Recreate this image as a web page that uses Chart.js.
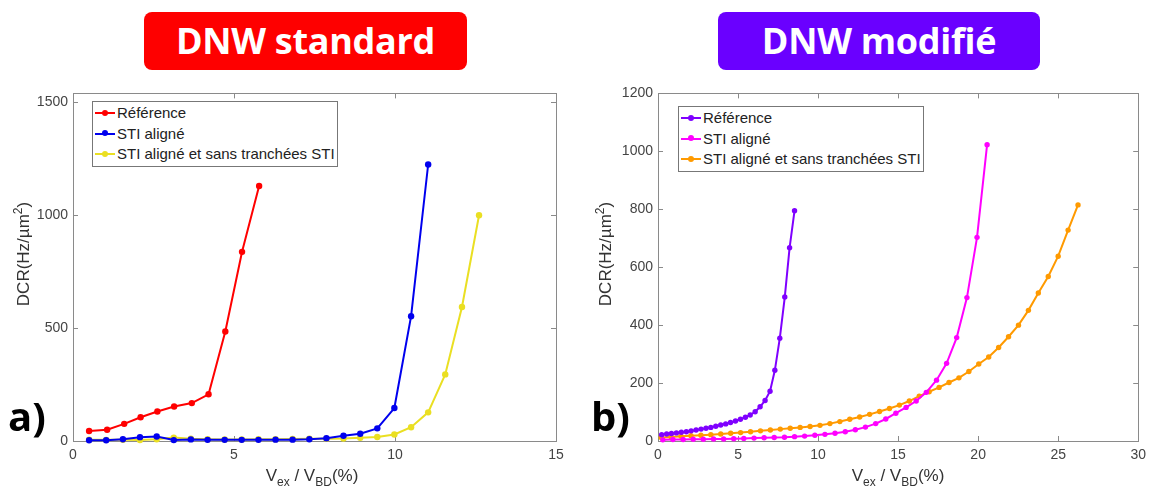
<!DOCTYPE html>
<html>
<head>
<meta charset="utf-8">
<script src="https://cdn.jsdelivr.net/npm/chart.js@4.4.0/dist/chart.umd.min.js"></script>
<style>
  html,body{margin:0;padding:0;background:#fff;}
  body{width:1152px;height:496px;position:relative;overflow:hidden;font-family:"Liberation Sans",Arial,sans-serif;}
  .hdr{position:absolute;top:12px;height:58px;border-radius:8px;color:#fff;font-family:"Open Sans","Noto Sans",sans-serif;font-weight:700;font-size:36px;line-height:58px;text-align:center;letter-spacing:-0.3px;}
  .cv{position:absolute;top:80px;height:416px;}
  .ytitle{position:absolute;transform:translate(-50%,-50%) rotate(-90deg);white-space:nowrap;font-size:17px;color:#333;}
  .xtitle{position:absolute;transform:translateX(-50%);white-space:nowrap;font-size:17px;color:#333;top:466px;}
  .xtitle sub{font-size:12px;vertical-align:-5px;}
  .ytitle sup{font-size:12px;vertical-align:7px;}
  .tag{position:absolute;font-family:"Open Sans","Noto Sans",sans-serif;font-weight:700;font-size:40px;color:#000;top:388px;}
  .legend{position:absolute;background:#fff;border:1px solid #777;font-size:15px;color:#222;padding:1px 2px 1px 2px;}
  .legend .row{height:20.5px;line-height:20.5px;white-space:nowrap;display:flex;align-items:center;}
  .legend .smp{position:relative;width:20px;height:2px;margin-right:2px;}
  .legend .smp i{position:absolute;left:7px;top:-2.5px;width:6px;height:6px;border-radius:50%;}
</style>
</head>
<body>
<div class="hdr" style="left:144px;width:323px;background:#fe0000;">DNW standard</div>
<div class="hdr" style="left:718px;width:322px;background:#6a00ff;">DNW modifié</div>

<canvas id="cA" class="cv" style="left:0;width:580px;" width="580" height="416"></canvas>
<canvas id="cB" class="cv" style="left:580px;width:572px;" width="572" height="416"></canvas>

<div class="ytitle" style="left:22px;top:254px;">DCR(Hz/µm<sup>2</sup>)</div>
<div class="ytitle" style="left:604px;top:254px;">DCR(Hz/µm<sup>2</sup>)</div>
<div class="xtitle" style="left:312px;">V<sub>ex</sub> / V<sub>BD</sub>(%)</div>
<div class="xtitle" style="left:898px;">V<sub>ex</sub> / V<sub>BD</sub>(%)</div>
<div class="tag" style="left:8px;">a)</div>
<div class="tag" style="left:591px;">b)</div>

<div id="legA" class="legend" style="left:92px;top:101px;"></div>
<div id="legB" class="legend" style="left:678px;top:106px;"></div>

<script>
// ---------- Panel a) DNW standard ----------
const seriesNamesA = ["Référence", "STI aligné", "STI aligné et sans tranchées STI"];
const colorsA = ["#ff0000", "#0000ee", "#eadf22"];

const refAX = [0.50,1.06,1.59,2.10,2.62,3.14,3.69,4.21,4.73,5.25,5.78];
const refAY = [44,50,76,105,131,153,168,207,485,838,1130];

const stiAX = [0.50,1.03,1.55,2.08,2.60,3.13,3.66,4.18,4.71,5.24,5.76,6.29,6.82,7.34,7.87,8.40,8.92,9.45,9.98,10.50,11.03];
const stiAY = [3,3,8,17,20,4,7,5,5,5,5,6,6,8,12,23,32,56,146,553,1225];

const sansAX = [0.50,1.03,1.55,2.08,2.60,3.13,3.66,4.18,4.71,5.24,5.76,6.29,6.82,7.34,7.87,8.40,8.92,9.45,9.98,10.50,11.03,11.56,12.08,12.61];
const sansAY = [6,5,5,4,8,15,10,8,7,7,8,8,9,10,10,11,14,18,29,61,127,295,594,1000];

const xTicksA = [0,5,10,15];
const yTicksA = [0,500,1000,1500];

// ---------- Panel b) DNW modifié ----------
const seriesNamesB = ["Référence", "STI aligné", "STI aligné et sans tranchées STI"];
const colorsB = ["#7f00ff", "#ff00ff", "#ff9a00"];

const refBX = [0.23,0.54,0.84,1.15,1.46,1.77,2.07,2.38,2.69,3.00,3.30,3.61,3.92,4.23,4.53,4.84,5.15,5.46,5.76,6.07,6.38,6.69,7.00,7.30,7.61,7.92,8.22,8.53];
const refBY = [22,24,26,28,30,32,35,38,41,44,47,51,55,59,64,69,75,82,90,101,118,140,172,244,355,497,667,795];

const stiBX = [0.30,0.93,1.57,2.20,2.83,3.47,4.10,4.73,5.36,6.00,6.63,7.26,7.90,8.53,9.16,9.80,10.43,11.06,11.70,12.33,12.96,13.60,14.23,14.86,15.50,16.13,16.76,17.40,18.03,18.66,19.30,19.93,20.56];
const stiBY = [4,5,5,6,6,7,7,8,9,10,11,12,13,15,17,20,23,27,32,39,48,60,76,96,116,138,168,210,268,357,495,703,1023];

const sansBX = [0.20,0.82,1.44,2.06,2.68,3.30,3.92,4.54,5.16,5.78,6.40,7.02,7.64,8.26,8.88,9.50,10.12,10.74,11.36,11.98,12.60,13.22,13.84,14.46,15.08,15.70,16.32,16.94,17.56,18.18,18.80,19.42,20.04,20.66,21.28,21.90,22.52,23.14,23.76,24.38,25.00,25.62,26.24];
const sansBY = [12,14,16,18,20,22,24,27,29,32,35,38,41,44,47,50,54,60,67,75,83,92,102,112,124,138,155,170,185,202,218,240,266,290,323,360,400,451,511,568,638,728,815];

const xTicksB = [0,5,10,15,20,25,30];
const yTicksB = [0,200,400,600,800,1000,1200];

// ---------- helpers ----------
function pts(xs, ys){ return xs.map((x,i)=>({x:x, y:ys[i]})); }

const boxPlugin = {
  id:'boxTicks',
  beforeDatasetsDraw(chart){
    const {ctx, chartArea:a, scales:{x,y}} = chart;
    ctx.save();
    ctx.strokeStyle = '#8a8a8a';
    ctx.lineWidth = 1;
    ctx.strokeRect(Math.round(a.left)+0.5, Math.round(a.top)+0.5, Math.round(a.right-a.left), Math.round(a.bottom-a.top));
    ctx.beginPath();
    x.ticks.forEach(t=>{
      const p = Math.round(x.getPixelForValue(t.value))+0.5;
      ctx.moveTo(p, a.bottom); ctx.lineTo(p, a.bottom-5);
      ctx.moveTo(p, a.top); ctx.lineTo(p, a.top+5);
    });
    y.ticks.forEach(t=>{
      const p = Math.round(y.getPixelForValue(t.value))+0.5;
      ctx.moveTo(a.left, p); ctx.lineTo(a.left+5, p);
      ctx.moveTo(a.right, p); ctx.lineTo(a.right-5, p);
    });
    ctx.stroke();
    ctx.restore();
  }
};

function makeChart(id, sets, names, colors, xmax, ymax, xTicks, yTicks, pad, radius){
  const datasets = sets.map((s,i)=>({
    label: names[i],
    data: pts(s[0], s[1]),
    borderColor: colors[i],
    backgroundColor: colors[i],
    borderWidth: 2,
    pointRadius: radius,
    pointHoverRadius: radius,
    pointBorderWidth: 0,
    tension: 0,
    showLine: true,
    clip: false
  }));
  const tickFont = {family:'"Liberation Sans", Arial, sans-serif', size:14};
  const plain = v => String(v);
  return new Chart(document.getElementById(id), {
    type:'scatter',
    data:{datasets},
    options:{
      responsive:false,
      animation:false,
      layout:{padding:pad},
      plugins:{legend:{display:false}, tooltip:{enabled:false}, title:{display:false}},
      scales:{
        x:{
          type:'linear', min:0, max:xmax,
          afterBuildTicks(sc){ sc.ticks = xTicks.map(v=>({value:v})); },
          afterFit(sc){ sc.height = 30; },
          grid:{display:false, drawTicks:false},
          border:{display:false},
          ticks:{font:tickFont, color:'#444', padding:6, maxRotation:0, callback:plain}
        },
        y:{
          type:'linear', min:0, max:ymax,
          afterBuildTicks(sc){ sc.ticks = yTicks.map(v=>({value:v})); },
          afterFit(sc){ sc.width = 40; },
          grid:{display:false, drawTicks:false},
          border:{display:false},
          ticks:{font:tickFont, color:'#444', padding:5, callback:plain}
        }
      }
    },
    plugins:[boxPlugin]
  });
}

makeChart('cA', [[refAX,refAY],[stiAX,stiAY],[sansAX,sansAY]], seriesNamesA, colorsA, 15, 1540, xTicksA, yTicksA, {left:33,right:24,top:9,bottom:25}, 3.2);
makeChart('cB', [[refBX,refBY],[stiBX,stiBY],[sansBX,sansBY]], seriesNamesB, colorsB, 30, 1200, xTicksB, yTicksB, {left:38,right:12,top:13,bottom:25}, 2.7);

function buildLegend(id, names, colors){
  const el = document.getElementById(id);
  names.forEach((n,i)=>{
    const row = document.createElement('div'); row.className='row';
    const s = document.createElement('span'); s.className='smp'; s.style.background = colors[i];
    const d = document.createElement('i'); d.style.background = colors[i]; s.appendChild(d);
    const t = document.createElement('span'); t.textContent = n;
    row.appendChild(s); row.appendChild(t); el.appendChild(row);
  });
}
buildLegend('legA', seriesNamesA, colorsA);
buildLegend('legB', seriesNamesB, colorsB);
</script>
</body>
</html>
